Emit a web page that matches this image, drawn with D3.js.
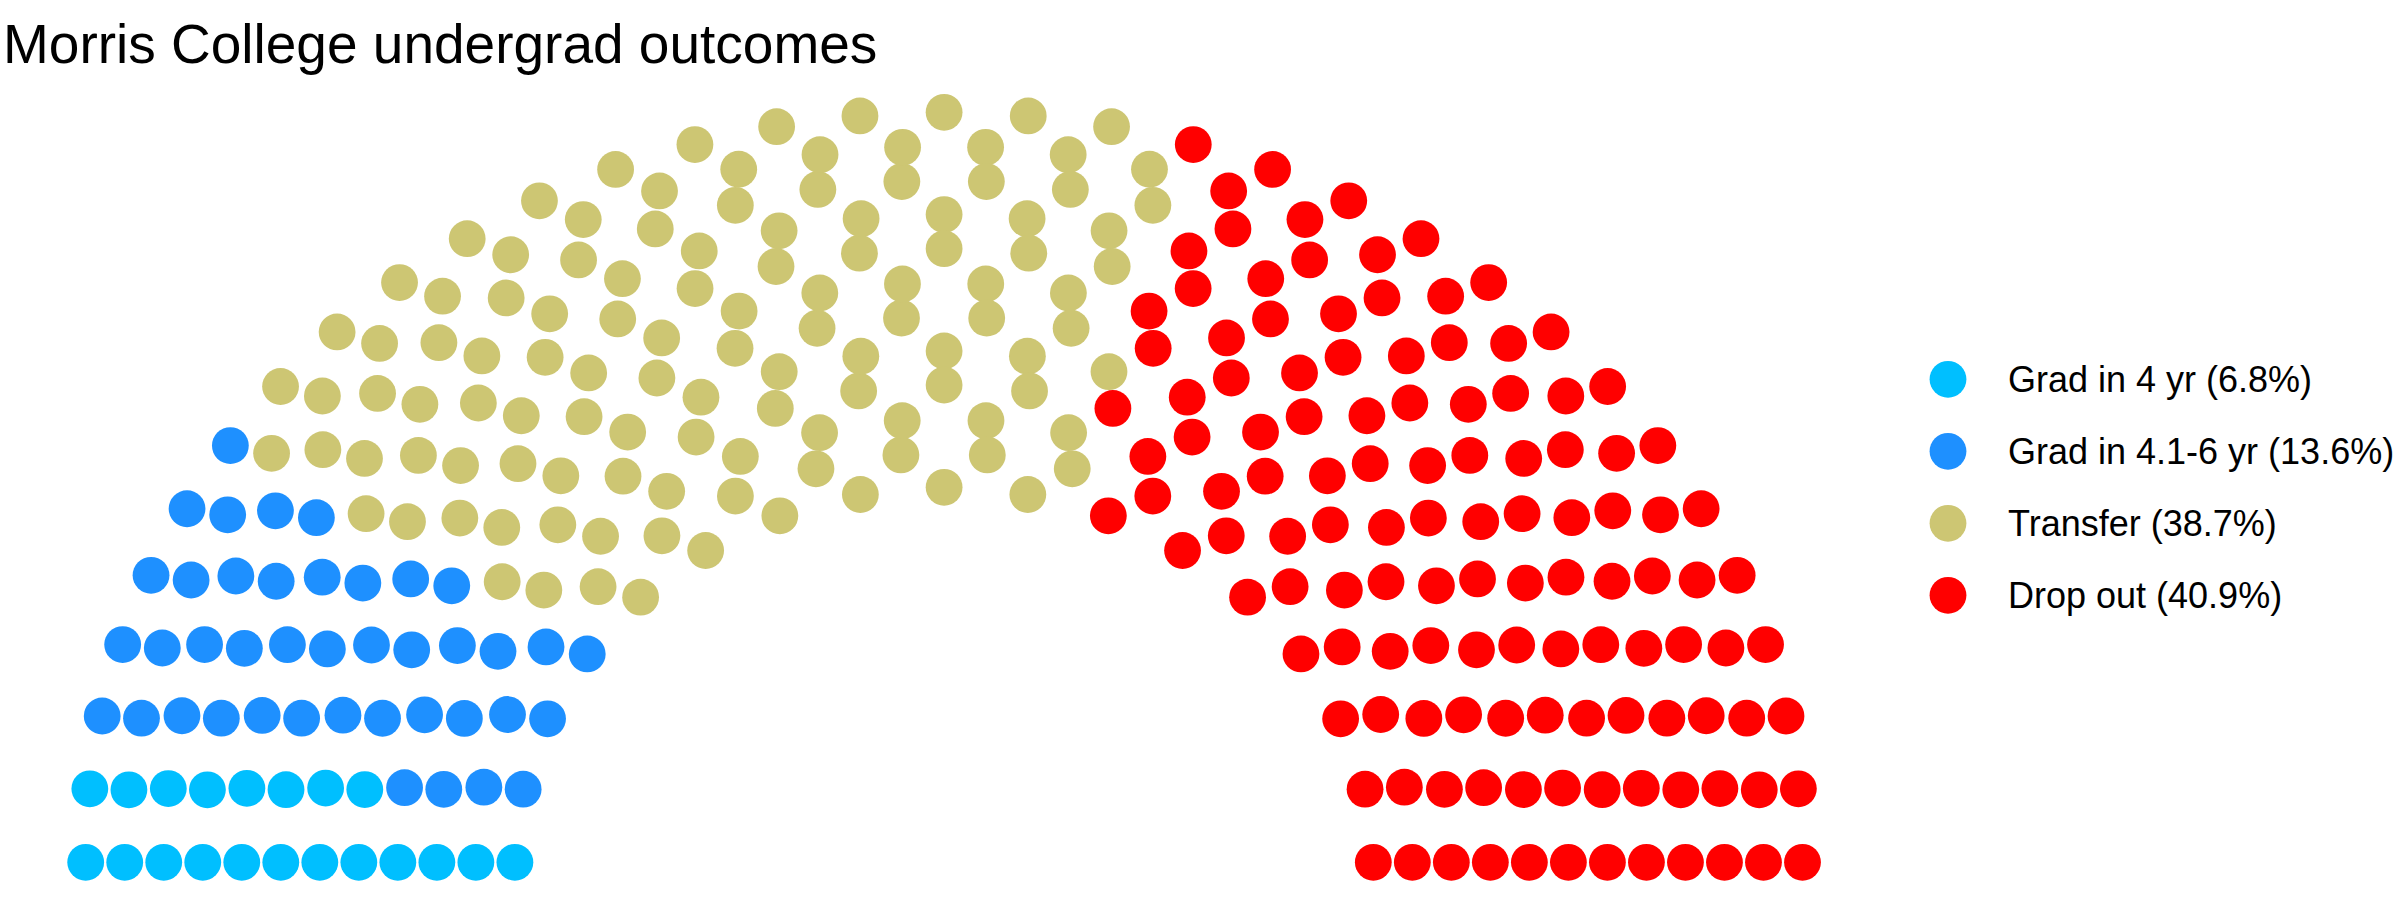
<!DOCTYPE html>
<html>
<head>
<meta charset="utf-8">
<script src="https://cdn.jsdelivr.net/npm/d3@7"></script>
<style>
  body { margin: 0; background: #fff; }
  text { font-family: "Liberation Sans", Arial, Helvetica, sans-serif; }
</style>
</head>
<body>
<div id="chart"></div>
<script>
var svgWidth = 2400;
var svgHeight = 900;

// data
var outcomes = ["Grad in 4 yr", "Grad in 4.1-6 yr", "Transfer", "Drop out"];
var percents = ["6.8%", "13.6%", "38.7%", "40.9%"];
var seats = [20, 41, 116, 123];
var colors = ["#00BFFF", "#1E90FF", "#CDC673", "#FF0000"];
var parlRows = 12;

var svg = d3.select("#chart")
    .append("svg")
    .attr("width", svgWidth)
    .attr("height", svgHeight);

// semicircle seat layout, rows with radii 1..2
var radii = d3.range(parlRows).map(i => 1 + i / (parlRows - 1));
var left = d3.sum(seats);
var pts = [];
radii.forEach(function(r, i) {
    var n = Math.round(left * r / d3.sum(radii.slice(i)));
    left -= n;
    var by = Math.PI / (n - 1);
    for (var k = 0; k < n; k++) {
        var theta = k === n - 1 ? Math.PI : k * by;
        pts.push({x: r * Math.cos(theta), y: r * Math.sin(theta), row: i, theta: theta});
    }
});
pts.sort((a, b) => (b.theta - a.theta) || (b.row - a.row));

var idx = 0;
seats.forEach(function(s, p) {
    for (var j = 0; j < s; j++) pts[idx++].party = p;
});

var xScale = d3.scaleLinear()
    .domain([-2, 2])
    .range([85.7, 1802.5]);

var yScale = d3.scaleLinear()
    .domain([0, 2])
    .range([862.3, 112.3]);

var colorScale = d3.scaleOrdinal()
    .domain(d3.range(outcomes.length))
    .range(colors);

svg.append("g")
    .selectAll("circle")
    .data(pts)
    .enter()
    .append("circle")
    .attr("cx", d => xScale(d.x))
    .attr("cy", d => yScale(d.y))
    .attr("r", 18.4)
    .attr("fill", d => colorScale(d.party));

svg.append("text")
    .attr("x", 3)
    .attr("y", 63)
    .attr("font-size", "55px")
    .attr("fill", "#000")
    .text("Morris College undergrad outcomes");

// legend
var legendY = d3.scalePoint()
    .domain(outcomes)
    .range([379.3, 595.3]);

var legend = svg.append("g")
    .selectAll("g")
    .data(outcomes)
    .enter()
    .append("g")
    .attr("transform", d => `translate(1948, ${legendY(d)})`);

legend.append("circle")
    .attr("r", 18.4)
    .attr("fill", (d, i) => colors[i]);

legend.append("text")
    .attr("x", 60)
    .attr("y", 13)
    .attr("font-size", "36px")
    .attr("fill", "#000")
    .text((d, i) => `${d} (${percents[i]})`);
</script>
</body>
</html>
